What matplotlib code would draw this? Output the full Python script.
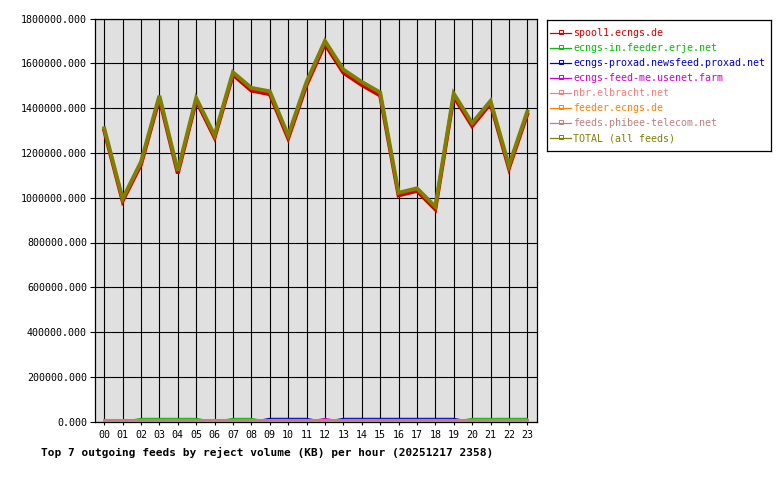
import matplotlib
matplotlib.use("Agg")
import matplotlib.pyplot as plt

hours = ["%02d" % h for h in range(24)]

labels = ["spool1.ecngs.de", "ecngs-in.feeder.erje.net",
          "ecngs-proxad.newsfeed.proxad.net", "ecngs-feed-me.usenet.farm",
          "nbr.elbracht.net", "feeder.ecngs.de", "feeds.phibee-telecom.net",
          "TOTAL (all feeds)"]
colors = ["#d00000", "#00c000", "#0000c8", "#d000d0",
          "#f08080", "#ff8000", "#c08080", "#808000"]

spool1 = [1300000, 985000, 1148000, 1443000, 1108000, 1433000, 1268000, 1549000,
          1478000, 1462000, 1265000, 1503000, 1686000, 1558000, 1503000, 1456000,
          1010000, 1030000, 948000, 1452000, 1320000, 1420000, 1131000, 1373000]
ecngs_in = [0, 0, 15000, 15000, 15000, 15000, 0, 15000, 15000, 0, 0, 0,
            0, 0, 0, 0, 0, 0, 0, 0, 15000, 15000, 15000, 15000]
proxad = [0, 0, 0, 0, 0, 0, 0, 0, 0, 15000, 15000, 15000,
          0, 15000, 15000, 15000, 15000, 15000, 15000, 15000, 0, 0, 0, 0]
feed_me = [0, 0, 0, 0, 0, 0, 0, 0, 0, 0, 0, 0,
           15000, 0, 0, 0, 0, 0, 0, 0, 0, 0, 0, 0]
nbr = [0] * 24
feeder = [0] * 24
phibee = [6000] * 24
total = [1310000, 995000, 1160000, 1455000, 1120000, 1445000, 1278000, 1560000,
         1490000, 1475000, 1278000, 1517000, 1700000, 1572000, 1517000, 1470000,
         1022000, 1042000, 960000, 1465000, 1333000, 1432000, 1143000, 1385000]

series = [spool1, ecngs_in, proxad, feed_me, nbr, feeder, phibee, total]
widths = [2.8, 0.8, 0.8, 0.8, 0.8, 0.8, 2.2, 2.8]

W, H = 780, 480
fig = plt.figure(figsize=(W / 100, H / 100), dpi=100)
fig.patch.set_facecolor("white")

ax = fig.add_axes([95 / W, (H - 421.7) / H, (536.5 - 95) / W, (421.7 - 18.5) / H])
ax.set_facecolor("#e0e0e0")
x = list(range(24))
for vals, c, lw in zip(series, colors, widths):
    ax.plot(x, vals, color=c, lw=lw, solid_joinstyle="miter", zorder=3)

ax.set_xlim(-0.5, 23.5)
ax.set_ylim(0, 1800000)
ax.set_xticks(x)
ax.set_xticklabels(hours)
yt = list(range(0, 1800001, 200000))
ax.set_yticks(yt)
ax.set_yticklabels(["%d.000" % v for v in yt])
ax.grid(True, color="black", lw=0.8, zorder=1)
ax.set_axisbelow(True)
for s in ax.spines.values():
    s.set_color("black")
    s.set_linewidth(0.9)
ax.tick_params(axis="y", length=3.6, width=0.8, pad=2.2, labelsize=7.2)
ax.tick_params(axis="x", length=2.2, width=0.8, pad=3.5, labelsize=7.2)
for t in ax.get_xticklabels() + ax.get_yticklabels():
    t.set_family("DejaVu Sans Mono")

fig.text(267 / W, 1 - 452 / H,
         "Top 7 outgoing feeds by reject volume (KB) per hour (20251217 2358)",
         ha="center", va="center", family="DejaVu Sans Mono",
         fontweight="bold", fontsize=8)

# legend box drawn by hand in pixel coordinates
lg = fig.add_axes([547 / W, (H - 151) / H, 224 / W, 131 / H])
lg.set_xlim(0, 224)
lg.set_ylim(131, 0)
lg.set_xticks([])
lg.set_yticks([])
for s in lg.spines.values():
    s.set_color("black")
    s.set_linewidth(0.9)
for i, (lab, c) in enumerate(zip(labels, colors)):
    yy = 13.3 + 15 * i
    lg.plot([3, 24], [yy, yy], color=c, lw=0.9)
    lg.plot([13.5], [yy - 1], marker="s", ms=2.5, mfc="none", mec=c, mew=0.7)
    lg.text(26, yy, lab, color=c, va="center", ha="left",
            family="DejaVu Sans Mono", fontsize=7.2)

fig.savefig("out.png", dpi=100)
